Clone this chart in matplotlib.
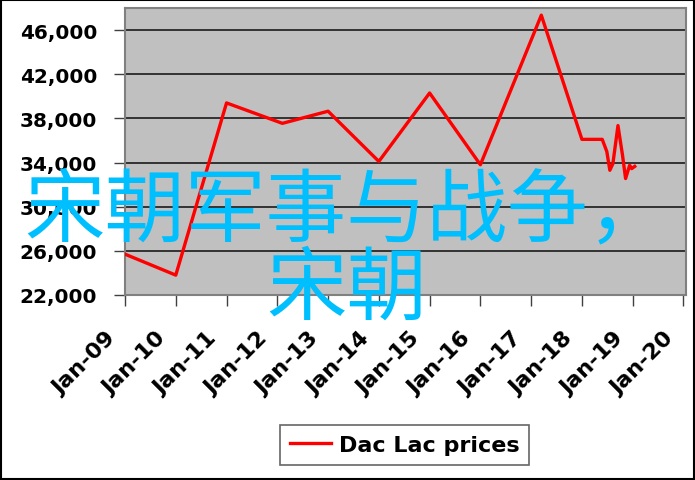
import matplotlib
matplotlib.use('Agg')
import matplotlib.pyplot as plt
from matplotlib.patches import Rectangle
from matplotlib.transforms import ScaledTranslation

# 数据
years = [2009.0, 2010.0, 2011.0, 2012.1, 2013.0, 2014.0, 2015.0, 2016.0, 2017.2,
         2018.0, 2018.4, 2018.49, 2018.55, 2018.61, 2018.71, 2018.80, 2018.86,
         2018.94, 2018.98, 2019.04]
prices = [25700, 23800, 39400, 37550, 38650, 34100, 40300, 33800, 47350,
          36100, 36100, 35000, 33300, 33900, 37350, 34650, 32550,
          33750, 33450, 33650]
x_ticks = list(range(2009, 2021))
x_labels = ['Jan-%02d' % (y % 100) for y in x_ticks]
y_ticks = [22000, 26000, 30000, 34000, 38000, 42000, 46000]
y_labels = ['{:,}'.format(v) for v in y_ticks]
series_name = 'Dac Lac prices'
overlay_line1 = '宋朝军事与战争，'
overlay_line2 = '宋朝'

fig = plt.figure(figsize=(6.95, 4.81), dpi=100)
ax = fig.add_axes([125 / 695, 1 - 296 / 481, (686 - 125) / 695, (296 - 9) / 481])
ax.set_facecolor('#C0C0C0')

ax.plot(years, prices, color='#FF0000', lw=2.4, label=series_name, zorder=3)

ax.set_xlim(2009, 2020.05)
ax.set_ylim(22000, 48000)
ax.set_yticks(y_ticks)
ax.set_yticklabels(y_labels, fontsize=14.4, fontweight='bold', family='DejaVu Sans')
ax.set_xticks(x_ticks)
ax.set_xticklabels([])
ax.tick_params(axis='both', direction='out', length=8, width=1, color='#404040')
ax.tick_params(axis='y', pad=12)

# x 轴标签手动放置（斜 45 度，稍微向左下偏移）
offset = ScaledTranslation(-20 / 100, -33 / 100, fig.dpi_scale_trans)
for xv, lab in zip(x_ticks, x_labels):
    ax.text(xv, 0, lab, transform=ax.get_xaxis_transform() + offset,
            fontsize=16, fontweight='bold', family='DejaVu Sans',
            rotation=45, ha='right', va='top', rotation_mode='anchor')

ax.grid(axis='y', color='#333333', lw=1.4)
ax.set_axisbelow(True)
for s in ax.spines.values():
    s.set_color('#808080')
    s.set_linewidth(1.5)

leg = fig.legend(loc='center', bbox_to_anchor=(0.582, 0.073), frameon=True,
                 fancybox=False, prop={'family': 'DejaVu Sans', 'weight': 'bold', 'size': 16},
                 handlelength=1.85, handletextpad=0.35, borderpad=0.45, borderaxespad=0)
leg.get_frame().set_edgecolor('#404040')
leg.get_frame().set_linewidth(1.2)

# 外框
fig.patches.append(Rectangle((0.001, 0.003), 0.997, 0.995, transform=fig.transFigure,
                             fill=False, edgecolor='black', lw=1.5))

# 叠加的中文文字
fig.text(24 / 695, 1 - 212 / 481, overlay_line1, fontsize=58, color='#00BFFF',
         family=['Noto Sans CJK SC', 'DejaVu Sans'], ha='left', va='center')
fig.text(347 / 695, 1 - 290 / 481, overlay_line2, fontsize=58, color='#00BFFF',
         family=['Noto Sans CJK SC', 'DejaVu Sans'], ha='center', va='center')

fig.savefig('out.png', dpi=100)
